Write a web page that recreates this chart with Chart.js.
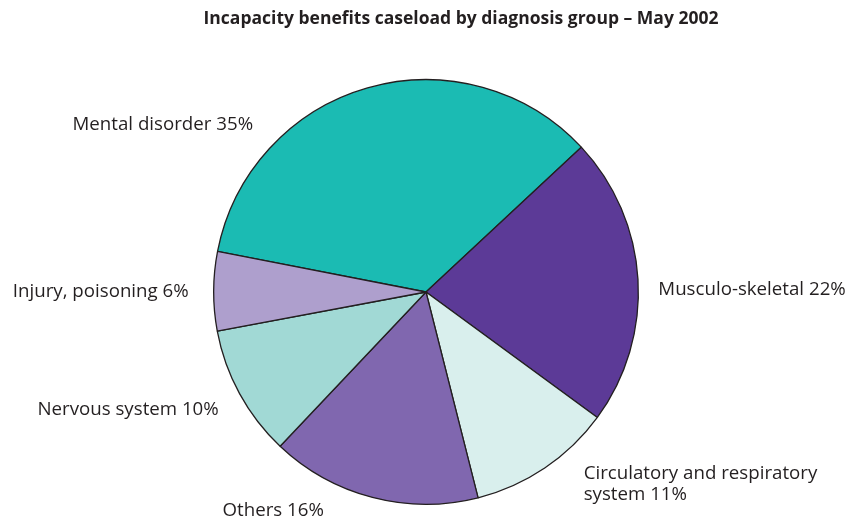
<!DOCTYPE html>
<html>
<head>
<meta charset="utf-8">
<script src="https://cdn.jsdelivr.net/npm/chart.js@4.4.1/dist/chart.umd.min.js"></script>
<style>
  html, body { margin: 0; padding: 0; background: #fff; }
  #wrap { width: 849px; height: 520px; }
</style>
</head>
<body>
<div id="wrap"><canvas id="chartPie" width="849" height="520"></canvas></div>
<script>
// donnees du graphique (mai 2002)
var groups = ['Mental disorder', 'Musculo-skeletal', 'Circulatory and respiratory system', 'Others', 'Nervous system', 'Injury, poisoning'];
var shares = [35, 22, 11, 16, 10, 6];
var labelLines = [
  ['Mental disorder 35%'],
  ['Musculo-skeletal 22%'],
  ['Circulatory and respiratory', 'system 11%'],
  ['Others 16%'],
  ['Nervous system 10%'],
  ['Injury, poisoning 6%']
];
var sliceColors = ['#1bbbb3', '#5c3a97', '#d9efed', '#8067af', '#a1d9d5', '#ae9fcd'];

// placement des etiquettes : angle (deg depuis midi), ecart au bord, alignement
var labelPlace = [
  [314, 28, 'right'],
  [89.5, 20, 'left'],
  [139, 28, 'left'],
  [215, 54, 'center'],
  [240.4, 26, 'right'],
  [270, 25, 'right']
];

var titleText = 'Incapacity benefits caseload by diagnosis group \u2013 May 2002';
var textColor = '#231f20';

var labelPlugin = {
  id: 'labelPlugin',
  afterDraw: function(chart) {
    var ctx = chart.ctx;
    var arc = chart.getDatasetMeta(0).data[0];
    var cx = arc.x, cy = arc.y, r = arc.outerRadius;
    ctx.save();
    ctx.fillStyle = textColor;
    // titre
    ctx.font = 'bold 17.5px "Open Sans"';
    ctx.textAlign = 'center';
    ctx.textBaseline = 'middle';
    ctx.fillText(titleText, 461, 19);
    // etiquettes
    ctx.font = '18.7px "Open Sans"';
    labelLines.forEach(function(lines, i) {
      var a = labelPlace[i][0] * Math.PI / 180;
      var d = r + labelPlace[i][1];
      var x = cx + d * Math.sin(a);
      var y = cy - d * Math.cos(a);
      ctx.textAlign = labelPlace[i][2];
      lines.forEach(function(t, k) {
        ctx.fillText(t, x, y + k * 21);
      });
    });
    ctx.restore();
  }
};

var pieCtx = document.getElementById('chartPie').getContext('2d');
var pieChart = new Chart(pieCtx, {
  type: 'pie',
  data: {
    labels: groups,
    datasets: [{
      data: shares,
      backgroundColor: sliceColors,
      borderColor: '#231f20',
      borderWidth: 1.3
    }]
  },
  options: {
    responsive: false,
    animation: false,
    rotation: 360 - shares[0] * 3.6 + 47,
    layout: { padding: { left: 213, right: 210, top: 79, bottom: 15 } },
    plugins: {
      legend: { display: false },
      tooltip: { enabled: false }
    }
  },
  plugins: [labelPlugin]
});
</script>
</body>
</html>
